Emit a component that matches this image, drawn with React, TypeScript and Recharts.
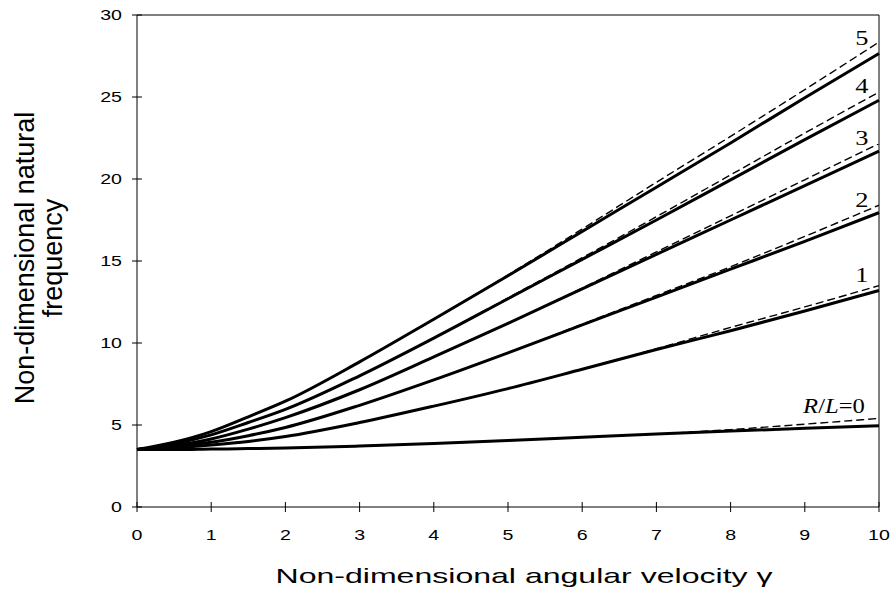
import React from "react";
import { LineChart, Line, XAxis, YAxis, ReferenceLine, ReferenceDot } from "recharts";

const gammaValues = [0, 0.5, 1, 1.5, 2, 3, 4, 5, 6, 7, 8, 9, 10];

const solid0 = [3.5, 3.5, 3.53, 3.56, 3.6, 3.72, 3.87, 4.05, 4.25, 4.45, 4.63, 4.8, 4.95];
const solid1 = [3.5, 3.6, 3.78, 4.0, 4.3, 5.15, 6.15, 7.22, 8.4, 9.6, 10.75, 11.95, 13.2];
const solid2 = [3.5, 3.68, 3.95, 4.35, 4.85, 6.2, 7.75, 9.4, 11.1, 12.8, 14.5, 16.2, 17.95];
const solid3 = [3.5, 3.75, 4.15, 4.75, 5.45, 7.15, 9.15, 11.2, 13.3, 15.4, 17.5, 19.6, 21.7];
const solid4 = [3.5, 3.85, 4.4, 5.15, 5.95, 8.0, 10.3, 12.7, 15.1, 17.5, 19.95, 22.4, 24.8];
const solid5 = [3.5, 3.95, 4.6, 5.5, 6.45, 8.85, 11.45, 14.1, 16.8, 19.5, 22.2, 24.95, 27.65];

const dashed0 = [3.5, 3.5, 3.53, 3.56, 3.6, 3.72, 3.87, 4.05, 4.25, 4.45, 4.72, 5.05, 5.4];
const dashed1 = [3.5, 3.6, 3.78, 4.0, 4.3, 5.15, 6.15, 7.22, 8.4, 9.65, 10.95, 12.2, 13.5];
const dashed2 = [3.5, 3.68, 3.95, 4.35, 4.85, 6.2, 7.75, 9.4, 11.15, 12.9, 14.65, 16.5, 18.4];
const dashed3 = [3.5, 3.75, 4.15, 4.75, 5.45, 7.15, 9.15, 11.2, 13.35, 15.55, 17.75, 19.95, 22.15];
const dashed4 = [3.5, 3.85, 4.4, 5.15, 5.95, 8.0, 10.3, 12.75, 15.2, 17.7, 20.25, 22.8, 25.3];
const dashed5 = [3.5, 3.95, 4.6, 5.5, 6.45, 8.85, 11.45, 14.15, 16.95, 19.8, 22.6, 25.45, 28.35];

const xTicks = [0, 1, 2, 3, 4, 5, 6, 7, 8, 9, 10];
const yTicks = [0, 5, 10, 15, 20, 25, 30];

const curveLabels = [
  { text: "5", x: 9.77, y: 28.17 },
  { text: "4", x: 9.77, y: 25.24 },
  { text: "3", x: 9.77, y: 22.07 },
  { text: "2", x: 9.77, y: 18.29 },
  { text: "1", x: 9.77, y: 13.72 },
];
const zeroLabel = { x: 9.81, y: 5.73 };

const data = gammaValues.map((g, i) => ({
  x: g,
  s0: solid0[i], s1: solid1[i], s2: solid2[i], s3: solid3[i], s4: solid4[i], s5: solid5[i],
  d0: dashed0[i], d1: dashed1[i], d2: dashed2[i], d3: dashed3[i], d4: dashed4[i], d5: dashed5[i],
}));

const SANS = "Arial, 'Liberation Sans', Helvetica, sans-serif";
const SERIF = "'Times New Roman', 'Liberation Serif', serif";

const XTick = (props: any) => {
  const { x, y, payload } = props;
  return (
    <g>
      <line x1={x} x2={x} y1={y - 5} y2={y + 5} stroke="#000" strokeWidth={1} />
      <text transform={`translate(${x},${y + 33}) scale(1.4,1)`} textAnchor="middle" fontFamily={SANS} fontSize={14} fill="#000">
        {payload.value}
      </text>
    </g>
  );
};

const YTick = (props: any) => {
  const { x, y, payload } = props;
  return (
    <g>
      <line x1={x - 5} x2={x + 5} y1={y} y2={y} stroke="#000" strokeWidth={1} />
      <text transform={`translate(${x - 15},${y + 5}) scale(1.4,1)`} textAnchor="end" fontFamily={SANS} fontSize={14} fill="#000">
        {payload.value}
      </text>
    </g>
  );
};

const solidKeys = ["s0", "s1", "s2", "s3", "s4", "s5"];
const dashedKeys = ["d0", "d1", "d2", "d3", "d4", "d5"];

export default function App() {
  return (
    <div style={{ position: "absolute", left: 0, top: 0, background: "#fff" }}>
      <LineChart width={893} height={598} data={data} margin={{ top: 15, right: 14, left: 0, bottom: 0 }}>
        <XAxis
          dataKey="x"
          type="number"
          domain={[0, 10]}
          ticks={xTicks}
          interval={0}
          axisLine={{ stroke: "#000", strokeWidth: 1 }}
          tickLine={false}
          tickSize={0}
          tickMargin={0}
          tick={<XTick />}
          height={91}
        />
        <YAxis
          type="number"
          domain={[0, 30]}
          ticks={yTicks}
          interval={0}
          axisLine={{ stroke: "#000", strokeWidth: 1 }}
          tickLine={false}
          tickSize={0}
          tickMargin={0}
          tick={<YTick />}
          width={137}
        />
        <ReferenceLine y={30} stroke="#000" strokeWidth={1} />
        <ReferenceLine x={10} stroke="#000" strokeWidth={1} />
        {dashedKeys.map((k) => (
          <Line key={k} type="monotone" dataKey={k} stroke="#000" strokeWidth={1.4} strokeDasharray="8 4" dot={false} isAnimationActive={false} />
        ))}
        {solidKeys.map((k) => (
          <Line key={k} type="monotone" dataKey={k} stroke="#000" strokeWidth={3} dot={false} isAnimationActive={false} />
        ))}
        {curveLabels.map((l) => (
          <ReferenceDot
            key={l.text}
            x={l.x}
            y={l.y}
            r={0}
            shape={(p: any) => (
              <text transform={`translate(${p.cx},${p.cy}) scale(1.2,1)`} textAnchor="middle" fontFamily={SERIF} fontSize={22} fill="#000">
                {l.text}
              </text>
            )}
          />
        ))}
        <ReferenceDot
          x={zeroLabel.x}
          y={zeroLabel.y}
          r={0}
          shape={(p: any) => (
            <text transform={`translate(${p.cx},${p.cy}) scale(1.12,1)`} textAnchor="end" fontFamily={SERIF} fontSize={22} fill="#000">
              <tspan fontStyle="italic">R</tspan>
              <tspan>/</tspan>
              <tspan fontStyle="italic">L</tspan>
              <tspan>=0</tspan>
            </text>
          )}
        />
        <text x={524} y={583} textAnchor="middle" fontFamily={SANS} fontSize={21} textLength={497} lengthAdjust="spacingAndGlyphs" fill="#000">
          Non-dimensional angular velocity γ
        </text>
        <text transform="translate(34,258) rotate(-90)" textAnchor="middle" fontFamily={SANS} fontSize={27} fill="#000">
          Non-dimensional natural
        </text>
        <text transform="translate(62,258) rotate(-90)" textAnchor="middle" fontFamily={SANS} fontSize={27} fill="#000">
          frequency
        </text>
      </LineChart>
    </div>
  );
}
